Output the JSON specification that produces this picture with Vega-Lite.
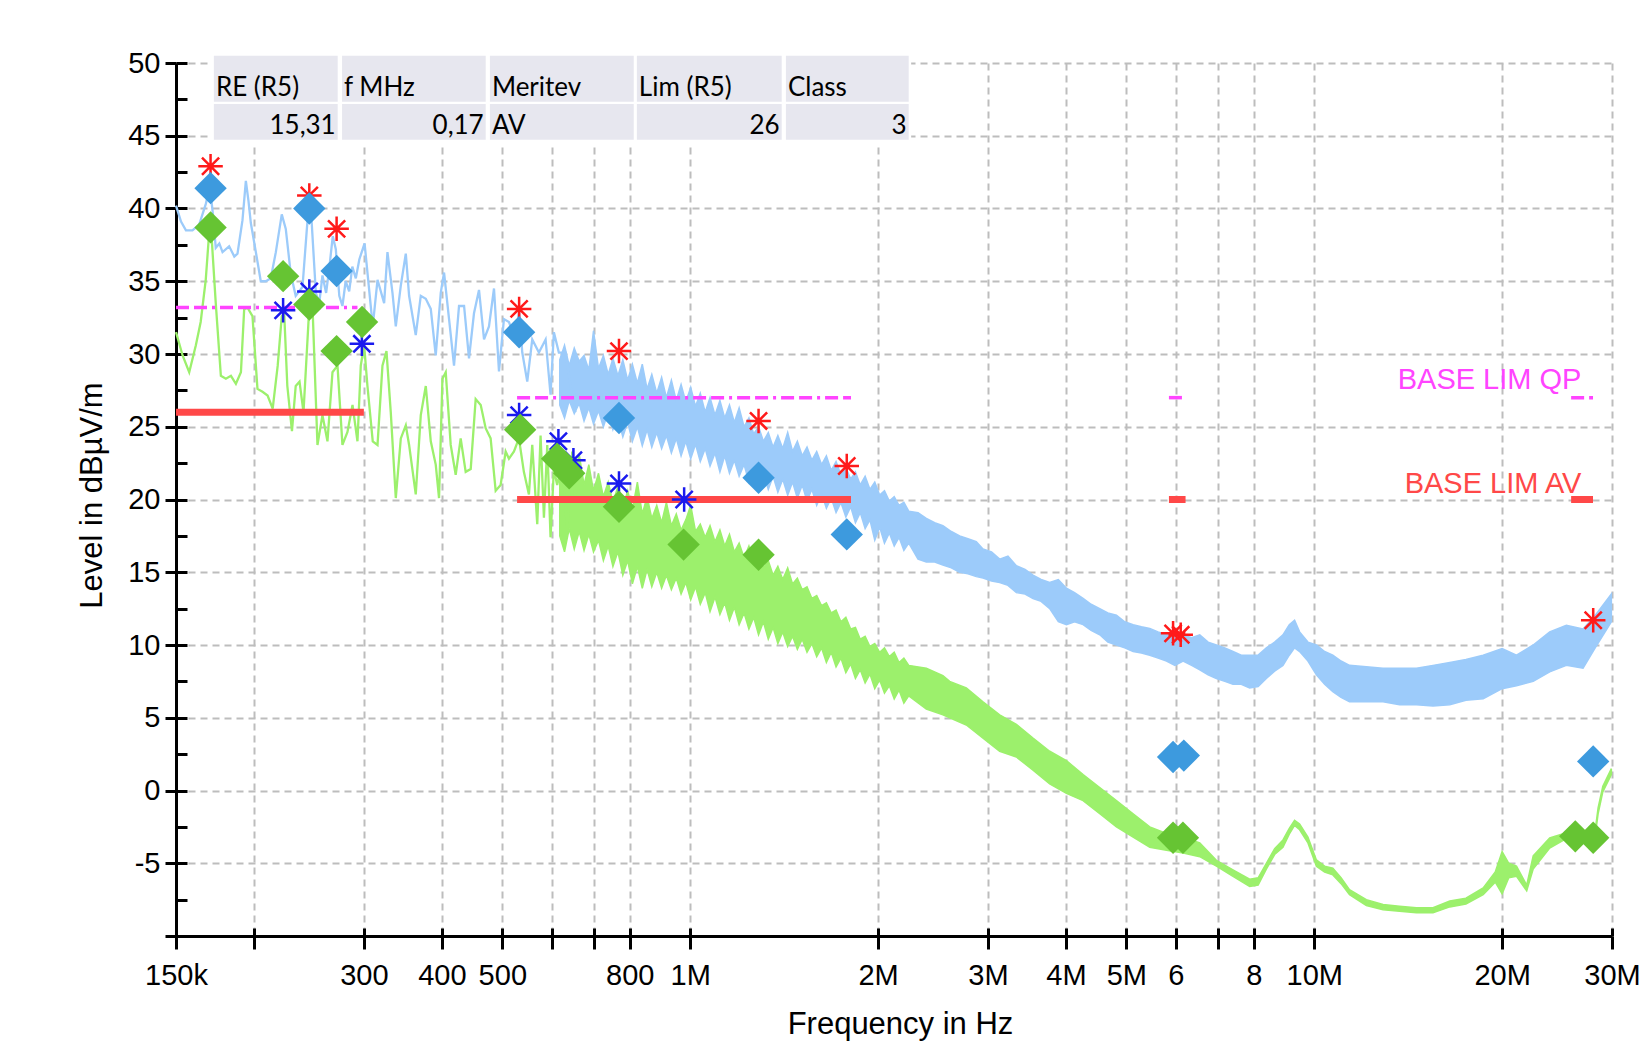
{
  "$schema": "https://vega.github.io/schema/vega-lite/v6.json",
  "width": 1436,
  "height": 873,
  "autosize": {"type": "none"},
  "padding": {"left": 176, "top": 63, "right": 34, "bottom": 106},
  "background": "white",
  "config": {"view": {"stroke": null}, "font": "Liberation Sans"},
  "datasets": {
    "blueLine": [
      {"f":0.150,"v":40.2},{"f":0.1528,"v":39.1},{"f":0.1556,"v":38.5},{"f":0.1594,"v":38.5},{"f":0.1634,"v":38.9},{"f":0.1674,"v":40.3},{"f":0.1700,"v":41.5},{"f":0.1720,"v":39.5},{"f":0.1737,"v":37.3},{"f":0.1760,"v":37.6},{"f":0.1781,"v":37.0},{"f":0.1825,"v":37.4},{"f":0.1860,"v":36.7},{"f":0.1882,"v":36.9},{"f":0.1917,"v":39.2},{"f":0.1941,"v":41.9},{"f":0.1960,"v":40.5},{"f":0.1977,"v":39.0},{"f":0.2014,"v":37.0},{"f":0.2051,"v":35.0},{"f":0.2089,"v":35.0},{"f":0.2128,"v":35.2},{"f":0.2168,"v":37.0},{"f":0.2216,"v":39.6},{"f":0.2249,"v":38.6},{"f":0.2291,"v":35.5},{"f":0.2333,"v":34.0},{"f":0.2392,"v":34.6},{"f":0.2430,"v":38.5},{"f":0.2452,"v":40.6},{"f":0.2475,"v":39.0},{"f":0.2513,"v":34.2},{"f":0.2545,"v":33.5},{"f":0.2575,"v":35.4},{"f":0.2610,"v":34.2},{"f":0.2639,"v":35.8},{"f":0.2675,"v":38.1},{"f":0.2705,"v":37.2},{"f":0.2740,"v":34.0},{"f":0.2772,"v":33.3},{"f":0.2805,"v":35.0},{"f":0.2842,"v":34.3},{"f":0.2875,"v":36.0},{"f":0.2912,"v":35.2},{"f":0.2950,"v":36.5},{"f":0.3008,"v":37.6},{"f":0.3100,"v":31.9},{"f":0.3155,"v":35.1},{"f":0.3233,"v":33.5},{"f":0.3273,"v":37.0},{"f":0.3334,"v":34.2},{"f":0.3375,"v":31.9},{"f":0.3438,"v":34.7},{"f":0.3502,"v":36.9},{"f":0.3545,"v":34.0},{"f":0.3633,"v":31.3},{"f":0.3701,"v":34.0},{"f":0.3770,"v":33.8},{"f":0.3840,"v":33.1},{"f":0.3911,"v":29.9},{"f":0.3984,"v":34.2},{"f":0.4033,"v":35.6},{"f":0.4108,"v":32.4},{"f":0.4184,"v":29.2},{"f":0.4262,"v":33.3},{"f":0.4342,"v":33.3},{"f":0.4422,"v":29.7},{"f":0.4504,"v":32.8},{"f":0.4588,"v":34.4},{"f":0.4674,"v":31.0},{"f":0.4760,"v":31.9},{"f":0.4849,"v":34.5},{"f":0.4939,"v":28.8},{"f":0.5030,"v":32.4},{"f":0.5124,"v":32.2},{"f":0.5252,"v":31.0},{"f":0.5320,"v":33.0},{"f":0.5382,"v":30.1},{"f":0.5482,"v":28.1},{"f":0.5584,"v":31.0},{"f":0.5723,"v":30.1},{"f":0.5866,"v":31.0},{"f":0.5974,"v":27.2},{"f":0.6048,"v":31.5},{"f":0.6160,"v":30.1},{"f":0.6314,"v":30.1},{"f":0.6430,"v":27.8},{"f":0.6550,"v":26.0}
    ],
    "greenLine": [
      {"f":0.150,"v":31.5},{"f":0.1537,"v":29.9},{"f":0.1575,"v":28.75},{"f":0.1614,"v":30.6},{"f":0.1643,"v":32.2},{"f":0.1674,"v":35.1},{"f":0.1695,"v":38.3},{"f":0.1712,"v":37.8},{"f":0.1737,"v":33.5},{"f":0.177,"v":28.5},{"f":0.1803,"v":28.3},{"f":0.1837,"v":28.5},{"f":0.1871,"v":27.95},{"f":0.1906,"v":28.75},{"f":0.1929,"v":33.07},{"f":0.1953,"v":33.18},{"f":0.1989,"v":32.6},{"f":0.2026,"v":27.6},{"f":0.2064,"v":27.4},{"f":0.2103,"v":27.15},{"f":0.2143,"v":26.25},{"f":0.2183,"v":29.2},{"f":0.2216,"v":32.6},{"f":0.2236,"v":32.8},{"f":0.2262,"v":27.8},{"f":0.2301,"v":24.7},{"f":0.2333,"v":27.8},{"f":0.2366,"v":28.1},{"f":0.2401,"v":26.0},{"f":0.2452,"v":33.1},{"f":0.2483,"v":33.1},{"f":0.2528,"v":23.75},{"f":0.2575,"v":25.8},{"f":0.2623,"v":24.0},{"f":0.2672,"v":28.75},{"f":0.2722,"v":29.2},{"f":0.2772,"v":23.75},{"f":0.2824,"v":24.65},{"f":0.2877,"v":26.5},{"f":0.293,"v":24.0},{"f":0.2966,"v":29.2},{"f":0.3003,"v":30.6},{"f":0.304,"v":27.8},{"f":0.31,"v":24.0},{"f":0.3155,"v":23.75},{"f":0.3213,"v":29.2},{"f":0.3261,"v":30.2},{"f":0.3313,"v":26.0},{"f":0.3375,"v":20.1},{"f":0.3438,"v":24.2},{"f":0.3502,"v":25.1},{"f":0.3545,"v":23.75},{"f":0.3633,"v":20.35},{"f":0.3701,"v":25.8},{"f":0.377,"v":27.8},{"f":0.384,"v":24.0},{"f":0.3911,"v":22.4},{"f":0.3959,"v":20.1},{"f":0.4009,"v":28.3},{"f":0.4058,"v":28.75},{"f":0.4133,"v":23.75},{"f":0.421,"v":21.7},{"f":0.4288,"v":24.2},{"f":0.4368,"v":21.9},{"f":0.445,"v":22.1},{"f":0.4532,"v":26.9},{"f":0.4617,"v":26.5},{"f":0.4702,"v":24.9},{"f":0.4789,"v":24.2},{"f":0.4879,"v":20.6},{"f":0.4969,"v":21.0},{"f":0.5062,"v":23.3},{"f":0.5124,"v":22.8},{"f":0.522,"v":23.3},{"f":0.5316,"v":24.2},{"f":0.5414,"v":21.9},{"f":0.5516,"v":20.35},{"f":0.5584,"v":23.75},{"f":0.5688,"v":18.3},{"f":0.5758,"v":24.4},{"f":0.583,"v":18.75},{"f":0.5902,"v":23.75},{"f":0.5974,"v":17.4},{"f":0.6048,"v":22.1},{"f":0.6122,"v":21.0},{"f":0.6237,"v":22.6},{"f":0.6353,"v":17.8},{"f":0.6472,"v":23.3},{"f":0.655,"v":19.9}
    ],
    "blueBand": [
      {"f":0.618,"lo":26.5,"hi":29.6},{"f":0.629,"lo":25.6,"hi":30.6},{"f":0.640,"lo":26.8,"hi":29.2},{"f":0.652,"lo":25.9,"hi":30.4},{"f":0.664,"lo":26.6,"hi":29.5},{"f":0.676,"lo":25.4,"hi":29.9},{"f":0.688,"lo":26.3,"hi":28.9},{"f":0.700,"lo":25.2,"hi":31.6},{"f":0.713,"lo":26.1,"hi":29.0},{"f":0.726,"lo":25.0,"hi":29.9},{"f":0.739,"lo":26.0,"hi":28.6},{"f":0.752,"lo":24.8,"hi":29.7},{"f":0.766,"lo":25.6,"hi":28.5},{"f":0.780,"lo":24.3,"hi":29.6},{"f":0.794,"lo":25.3,"hi":28.2},{"f":0.808,"lo":24.0,"hi":29.3},{"f":0.823,"lo":25.0,"hi":28.0},{"f":0.838,"lo":23.7,"hi":29.3},{"f":0.853,"lo":24.8,"hi":27.6},{"f":0.868,"lo":23.6,"hi":28.6},{"f":0.884,"lo":24.6,"hi":27.3},{"f":0.900,"lo":23.5,"hi":28.4},{"f":0.916,"lo":24.4,"hi":27.0},{"f":0.933,"lo":23.2,"hi":28.2},{"f":0.950,"lo":24.2,"hi":26.8},{"f":0.967,"lo":23.0,"hi":27.9},{"f":0.984,"lo":24.0,"hi":26.7},{"f":1.002,"lo":22.8,"hi":27.7},{"f":1.020,"lo":23.8,"hi":26.4},{"f":1.038,"lo":22.6,"hi":27.3},{"f":1.057,"lo":23.5,"hi":26.0},{"f":1.076,"lo":22.3,"hi":27.0},{"f":1.096,"lo":23.2,"hi":25.8},{"f":1.116,"lo":21.9,"hi":26.8},{"f":1.136,"lo":23.0,"hi":25.6},{"f":1.156,"lo":21.8,"hi":26.5},{"f":1.177,"lo":22.7,"hi":25.3},{"f":1.198,"lo":21.6,"hi":26.3},{"f":1.220,"lo":22.4,"hi":25.0},{"f":1.242,"lo":21.2,"hi":25.6},{"f":1.264,"lo":22.1,"hi":24.5},{"f":1.287,"lo":20.9,"hi":25.0},{"f":1.310,"lo":21.8,"hi":24.0},{"f":1.334,"lo":20.7,"hi":24.6},{"f":1.358,"lo":21.6,"hi":23.6},{"f":1.382,"lo":20.5,"hi":24.4},{"f":1.407,"lo":21.4,"hi":23.5},{"f":1.433,"lo":20.3,"hi":24.6},{"f":1.459,"lo":21.2,"hi":23.3},{"f":1.485,"lo":20.1,"hi":24.0},{"f":1.512,"lo":21.0,"hi":23.0},{"f":1.539,"lo":19.9,"hi":23.6},{"f":1.567,"lo":20.7,"hi":22.7},{"f":1.595,"lo":19.6,"hi":23.3},{"f":1.624,"lo":20.4,"hi":22.4},{"f":1.653,"lo":19.4,"hi":23.0},{"f":1.683,"lo":20.1,"hi":22.0},{"f":1.713,"lo":19.1,"hi":22.6},{"f":1.744,"lo":19.8,"hi":21.7},{"f":1.776,"lo":18.8,"hi":22.2},{"f":1.808,"lo":19.5,"hi":21.4},{"f":1.840,"lo":18.4,"hi":21.9},{"f":1.873,"lo":19.1,"hi":21.0},{"f":1.907,"lo":18.0,"hi":21.6},{"f":1.941,"lo":18.6,"hi":20.7},{"f":1.976,"lo":17.2,"hi":21.2},{"f":2.012,"lo":18.1,"hi":20.3},{"f":2.048,"lo":17.0,"hi":20.6},{"f":2.085,"lo":17.7,"hi":19.9},{"f":2.123,"lo":16.8,"hi":20.2},{"f":2.161,"lo":17.4,"hi":19.6},{"f":2.200,"lo":16.5,"hi":19.8},{"f":2.240,"lo":17.0,"hi":19.2},
      {"f":2.318,"lo":15.9,"hi":19.1},{"f":2.390,"lo":15.7,"hi":18.7},{"f":2.465,"lo":15.7,"hi":18.4},{"f":2.541,"lo":15.5,"hi":18.2},{"f":2.621,"lo":15.3,"hi":17.8},{"f":2.703,"lo":15.0,"hi":17.5},{"f":2.787,"lo":14.9,"hi":17.3},{"f":2.874,"lo":14.7,"hi":17.1},{"f":2.946,"lo":14.6,"hi":16.6},{"f":3.04,"lo":14.4,"hi":16.4},{"f":3.133,"lo":14.3,"hi":15.9},{"f":3.23,"lo":14.1,"hi":16.1},{"f":3.332,"lo":13.6,"hi":15.45},{"f":3.44,"lo":13.5,"hi":15.2},{"f":3.543,"lo":13.2,"hi":14.8},{"f":3.65,"lo":13.0,"hi":14.5},{"f":3.768,"lo":12.5,"hi":14.3},{"f":3.89,"lo":11.6,"hi":14.5},{"f":4.008,"lo":11.4,"hi":13.9},{"f":4.13,"lo":11.6,"hi":13.6},{"f":4.262,"lo":11.4,"hi":13.2},{"f":4.39,"lo":11.0,"hi":12.8},{"f":4.532,"lo":10.7,"hi":12.5},{"f":4.67,"lo":10.2,"hi":12.2},{"f":4.82,"lo":10.0,"hi":12.05},{"f":4.97,"lo":9.8,"hi":11.6},{"f":5.126,"lo":9.55,"hi":11.4},{"f":5.285,"lo":9.45,"hi":11.25},{"f":5.451,"lo":9.3,"hi":11.14},{"f":5.62,"lo":9.1,"hi":10.9},{"f":5.797,"lo":8.9,"hi":10.7},{"f":5.98,"lo":8.6,"hi":10.9},{"f":6.164,"lo":8.9,"hi":10.7},{"f":6.36,"lo":8.6,"hi":10.5},{"f":6.555,"lo":8.3,"hi":10.7},{"f":6.76,"lo":7.95,"hi":10.2},{"f":6.97,"lo":7.7,"hi":10.0},{"f":7.19,"lo":7.5,"hi":9.8},{"f":7.41,"lo":7.3,"hi":9.55},{"f":7.64,"lo":7.3,"hi":9.3},{"f":7.88,"lo":7.05,"hi":9.3},{"f":8.13,"lo":7.15,"hi":9.3},{"f":8.38,"lo":7.7,"hi":9.8},{"f":8.64,"lo":8.2,"hi":10.2},{"f":8.91,"lo":8.6,"hi":10.7},{"f":9.12,"lo":9.3,"hi":11.4},{"f":9.30,"lo":9.8,"hi":11.7},{"f":9.475,"lo":9.55,"hi":10.9},{"f":9.77,"lo":8.9,"hi":10.2},{"f":10.08,"lo":7.95,"hi":10.0},{"f":10.39,"lo":7.3,"hi":9.55},{"f":10.71,"lo":6.8,"hi":9.3},{"f":11.04,"lo":6.4,"hi":8.9},{"f":11.39,"lo":6.1,"hi":8.6},{"f":12.12,"lo":6.1,"hi":8.5},{"f":12.89,"lo":6.1,"hi":8.4},{"f":13.7,"lo":5.9,"hi":8.4},{"f":14.58,"lo":5.9,"hi":8.4},{"f":15.5,"lo":5.8,"hi":8.6},{"f":16.49,"lo":5.9,"hi":8.8},{"f":17.5,"lo":6.2,"hi":9.0},{"f":18.65,"lo":6.3,"hi":9.3},{"f":20.0,"lo":7.0,"hi":9.75},{"f":21.09,"lo":7.2,"hi":9.3},{"f":22.43,"lo":7.5,"hi":10.0},{"f":23.84,"lo":8.15,"hi":10.9},{"f":25.35,"lo":8.6,"hi":11.35},{"f":26.96,"lo":8.4,"hi":11.1},{"f":28.15,"lo":9.75,"hi":12.0},{"f":29.93,"lo":11.6,"hi":13.5}
    ],
    "greenBand": [
      {"f":0.618,"lo":17.5,"hi":23.5},{"f":0.629,"lo":16.4,"hi":21.8},{"f":0.640,"lo":18.0,"hi":23.0},{"f":0.652,"lo":16.6,"hi":21.4},{"f":0.664,"lo":17.8,"hi":23.1},{"f":0.676,"lo":16.5,"hi":21.0},{"f":0.688,"lo":17.6,"hi":22.4},{"f":0.700,"lo":16.4,"hi":20.6},{"f":0.713,"lo":17.2,"hi":21.8},{"f":0.726,"lo":15.8,"hi":20.2},{"f":0.739,"lo":16.8,"hi":21.2},{"f":0.752,"lo":15.4,"hi":19.8},{"f":0.766,"lo":16.4,"hi":20.9},{"f":0.780,"lo":14.8,"hi":19.4},{"f":0.794,"lo":15.8,"hi":20.6},{"f":0.808,"lo":14.2,"hi":19.3},{"f":0.823,"lo":15.4,"hi":21.2},{"f":0.838,"lo":13.9,"hi":19.0},{"f":0.853,"lo":15.2,"hi":20.2},{"f":0.868,"lo":14.0,"hi":18.7},{"f":0.884,"lo":15.0,"hi":19.6},{"f":0.900,"lo":13.9,"hi":18.4},{"f":0.916,"lo":14.8,"hi":19.8},{"f":0.933,"lo":13.8,"hi":18.2},{"f":0.950,"lo":14.6,"hi":19.0},{"f":0.967,"lo":13.5,"hi":17.9},{"f":0.984,"lo":14.3,"hi":18.6},{"f":1.002,"lo":13.1,"hi":19.6},{"f":1.020,"lo":14.0,"hi":17.8},{"f":1.038,"lo":12.8,"hi":18.3},{"f":1.057,"lo":13.6,"hi":17.4},{"f":1.076,"lo":12.3,"hi":18.2},{"f":1.096,"lo":13.3,"hi":17.1},{"f":1.116,"lo":12.1,"hi":17.9},{"f":1.136,"lo":12.9,"hi":16.8},{"f":1.156,"lo":11.7,"hi":17.6},{"f":1.177,"lo":12.6,"hi":16.4},{"f":1.198,"lo":11.4,"hi":17.0},{"f":1.220,"lo":12.2,"hi":16.0},{"f":1.242,"lo":11.1,"hi":16.8},{"f":1.264,"lo":11.9,"hi":15.7},{"f":1.287,"lo":10.7,"hi":16.4},{"f":1.310,"lo":11.6,"hi":15.3},{"f":1.334,"lo":10.4,"hi":15.8},{"f":1.358,"lo":11.2,"hi":14.8},{"f":1.382,"lo":10.1,"hi":15.4},{"f":1.407,"lo":10.9,"hi":14.5},{"f":1.433,"lo":9.9,"hi":15.3},{"f":1.459,"lo":10.6,"hi":14.2},{"f":1.485,"lo":9.7,"hi":14.6},{"f":1.512,"lo":10.4,"hi":13.8},{"f":1.539,"lo":9.5,"hi":14.0},{"f":1.567,"lo":10.1,"hi":13.2},{"f":1.595,"lo":9.2,"hi":13.4},{"f":1.624,"lo":9.8,"hi":12.7},{"f":1.653,"lo":8.8,"hi":12.9},{"f":1.683,"lo":9.5,"hi":12.2},{"f":1.713,"lo":8.5,"hi":12.4},{"f":1.744,"lo":9.1,"hi":11.6},{"f":1.776,"lo":8.1,"hi":11.9},{"f":1.808,"lo":8.7,"hi":11.1},{"f":1.840,"lo":7.7,"hi":11.2},{"f":1.873,"lo":8.3,"hi":10.4},{"f":1.907,"lo":7.4,"hi":10.6},{"f":1.941,"lo":8.0,"hi":9.9},{"f":1.976,"lo":7.0,"hi":10.1},{"f":2.012,"lo":7.6,"hi":9.5},{"f":2.048,"lo":6.7,"hi":9.8},{"f":2.085,"lo":7.2,"hi":9.2},{"f":2.123,"lo":6.3,"hi":9.5},{"f":2.161,"lo":6.9,"hi":8.8},{"f":2.200,"lo":6.0,"hi":9.1},{"f":2.240,"lo":6.5,"hi":8.6},
      {"f":2.39,"lo":5.6,"hi":8.4},{"f":2.541,"lo":5.2,"hi":7.9},{"f":2.605,"lo":5.0,"hi":7.5},{"f":2.77,"lo":4.5,"hi":7.05},{"f":2.946,"lo":3.6,"hi":6.1},{"f":3.133,"lo":2.7,"hi":5.2},{"f":3.332,"lo":2.3,"hi":4.55},{"f":3.543,"lo":1.4,"hi":3.6},{"f":3.768,"lo":0.45,"hi":2.7},{"f":4.008,"lo":-0.2,"hi":2.05},{"f":4.262,"lo":-0.7,"hi":1.1},{"f":4.532,"lo":-1.6,"hi":0.2},{"f":4.82,"lo":-2.5,"hi":-0.7},{"f":5.126,"lo":-3.2,"hi":-1.6},{"f":5.451,"lo":-3.9,"hi":-2.5},{"f":5.797,"lo":-4.1,"hi":-2.95},{"f":6.164,"lo":-4.3,"hi":-3.2},{"f":6.555,"lo":-4.55,"hi":-3.6},{"f":6.97,"lo":-5.2,"hi":-4.8},{"f":7.41,"lo":-5.9,"hi":-5.45},{"f":7.88,"lo":-6.6,"hi":-6.1},{"f":8.13,"lo":-6.5,"hi":-6.0},{"f":8.38,"lo":-5.4,"hi":-5.0},{"f":8.64,"lo":-4.4,"hi":-4.0},{"f":8.91,"lo":-3.9,"hi":-3.4},{"f":9.12,"lo":-3.0,"hi":-2.6},{"f":9.30,"lo":-2.4,"hi":-2.05},{"f":9.475,"lo":-2.7,"hi":-2.3},{"f":9.77,"lo":-3.6,"hi":-3.2},{"f":10.08,"lo":-5.2,"hi":-4.77},{"f":10.39,"lo":-5.6,"hi":-5.2},{"f":10.71,"lo":-5.8,"hi":-5.34},{"f":11.04,"lo":-6.4,"hi":-6.0},{"f":11.39,"lo":-7.16,"hi":-6.82},{"f":12.12,"lo":-7.9,"hi":-7.5},{"f":12.89,"lo":-8.2,"hi":-7.84},{"f":13.7,"lo":-8.3,"hi":-7.95},{"f":14.58,"lo":-8.4,"hi":-8.06},{"f":15.5,"lo":-8.4,"hi":-8.05},{"f":16.49,"lo":-8.0,"hi":-7.6},{"f":17.5,"lo":-7.8,"hi":-7.4},{"f":18.65,"lo":-7.15,"hi":-6.7},{"f":19.5,"lo":-6.3,"hi":-5.6},{"f":20.0,"lo":-7.1,"hi":-4.2},{"f":20.5,"lo":-6.0,"hi":-5.0},{"f":21.09,"lo":-5.9,"hi":-5.2},{"f":21.9,"lo":-6.9,"hi":-6.5},{"f":22.43,"lo":-5.4,"hi":-4.5},{"f":23.84,"lo":-3.95,"hi":-3.26},{"f":25.35,"lo":-3.3,"hi":-2.9},{"f":26.96,"lo":-3.3,"hi":-2.8},{"f":28.2,"lo":-3.1,"hi":-2.7},{"f":28.5,"lo":-1.6,"hi":-1.2},{"f":29.0,"lo":-0.1,"hi":0.3},{"f":29.93,"lo":1.1,"hi":1.5}
    ],
    "markers": [
      {"f":0.1704,"v":42.9,"kind":"QP peak"},{"f":0.2453,"v":40.9,"kind":"QP peak"},{"f":0.2713,"v":38.6,"kind":"QP peak"},{"f":0.532,"v":33.1,"kind":"QP peak"},{"f":0.769,"v":30.2,"kind":"QP peak"},{"f":1.287,"v":25.4,"kind":"QP peak"},{"f":1.782,"v":22.3,"kind":"QP peak"},{"f":5.94,"v":10.8,"kind":"QP peak"},{"f":6.11,"v":10.7,"kind":"QP peak"},{"f":27.99,"v":11.7,"kind":"QP peak"},
      {"f":0.1704,"v":41.4,"kind":"QP"},{"f":0.2453,"v":40.0,"kind":"QP"},{"f":0.2713,"v":35.7,"kind":"QP"},{"f":0.532,"v":31.5,"kind":"QP"},{"f":0.769,"v":25.6,"kind":"QP"},{"f":1.287,"v":21.5,"kind":"QP"},{"f":1.782,"v":17.6,"kind":"QP"},{"f":5.94,"v":2.3,"kind":"QP"},{"f":6.18,"v":2.4,"kind":"QP"},{"f":27.99,"v":2.0,"kind":"QP"},
      {"f":0.2227,"v":33.0,"kind":"AV peak"},{"f":0.2453,"v":34.3,"kind":"AV peak"},{"f":0.2978,"v":30.7,"kind":"AV peak"},{"f":0.532,"v":25.8,"kind":"AV peak"},{"f":0.615,"v":24.0,"kind":"AV peak"},{"f":0.65,"v":22.7,"kind":"AV peak"},{"f":0.769,"v":21.1,"kind":"AV peak"},{"f":0.978,"v":20.0,"kind":"AV peak"},
      {"f":0.1704,"v":38.7,"kind":"AV"},{"f":0.2227,"v":35.35,"kind":"AV"},{"f":0.2453,"v":33.4,"kind":"AV"},{"f":0.2713,"v":30.2,"kind":"AV"},{"f":0.298,"v":32.2,"kind":"AV"},{"f":0.534,"v":24.8,"kind":"AV"},{"f":0.612,"v":22.8,"kind":"AV"},{"f":0.64,"v":21.8,"kind":"AV"},{"f":0.769,"v":19.5,"kind":"AV"},{"f":0.976,"v":16.9,"kind":"AV"},{"f":1.287,"v":16.2,"kind":"AV"},{"f":5.94,"v":-3.25,"kind":"AV"},{"f":6.16,"v":-3.25,"kind":"AV"},{"f":26.2,"v":-3.15,"kind":"AV"},{"f":27.99,"v":-3.25,"kind":"AV"}
    ],
    "limits": [
      {"f1":0.15,"f2":0.30,"v":26,"kind":"AV"},{"f1":0.528,"f2":1.81,"v":20,"kind":"AV"},{"f1":5.85,"f2":6.22,"v":20,"kind":"AV"},{"f1":25.8,"f2":27.97,"v":20,"kind":"AV"},
      {"f1":0.15,"f2":0.293,"v":33.2,"kind":"QP"},{"f1":0.528,"f2":1.81,"v":27,"kind":"QP"},{"f1":5.85,"f2":6.22,"v":27,"kind":"QP"},{"f1":25.8,"f2":27.97,"v":27,"kind":"QP"}
    ],
    "limitLabels": [
      {"f":26.8,"v":27.57,"text":"BASE LIM QP","kind":"QP"},
      {"f":26.8,"v":20.43,"text":"BASE LIM AV","kind":"AV"}
    ],
    "tableBg": [{"f1":0.1705,"f2":2.26,"v1":44.5,"v2":50.65}],
    "table": [
      {"f1":0.1725,"f2":0.2724,"v1":47.33,"v2":50.5,"text":"RE (R5)","num":false},
      {"f1":0.2768,"f2":0.4703,"v1":47.33,"v2":50.5,"text":"f MHz","num":false},
      {"f1":0.4776,"f2":0.812,"v1":47.33,"v2":50.5,"text":"Meritev","num":false},
      {"f1":0.8214,"f2":1.4017,"v1":47.33,"v2":50.5,"text":"Lim (R5)","num":false},
      {"f1":1.4237,"f2":2.2396,"v1":47.33,"v2":50.5,"text":"Class","num":false},
      {"f1":0.1725,"f2":0.2724,"v1":44.73,"v2":47.19,"text":"15,31","num":true},
      {"f1":0.2768,"f2":0.4703,"v1":44.73,"v2":47.19,"text":"0,17","num":true},
      {"f1":0.4776,"f2":0.812,"v1":44.73,"v2":47.19,"text":"AV","num":false},
      {"f1":0.8214,"f2":1.4017,"v1":44.73,"v2":47.19,"text":"26","num":true},
      {"f1":1.4237,"f2":2.2396,"v1":44.73,"v2":47.19,"text":"3","num":true}
    ]
  },
  "layer": [
    {
      "layer": [
        {
          "data": {"name": "blueBand"},
          "mark": {"type": "area", "color": "#9ccbfa", "stroke": "#9ccbfa", "strokeWidth": 1.5, "opacity": 1},
          "encoding": {
            "x": {
              "field": "f", "type": "quantitative",
              "scale": {"type": "log", "domain": [0.15, 30], "nice": false},
              "axis": {
                "values": [0.15, 0.2, 0.3, 0.4, 0.5, 0.6, 0.7, 0.8, 1, 2, 3, 4, 5, 6, 7, 8, 10, 20, 30],
                "labelExpr": "datum.value==0.15?'150k':datum.value==0.3?'300':datum.value==0.4?'400':datum.value==0.5?'500':datum.value==0.8?'800':datum.value==1?'1M':datum.value==2?'2M':datum.value==3?'3M':datum.value==4?'4M':datum.value==5?'5M':datum.value==6?'6':datum.value==8?'8':datum.value==10?'10M':datum.value==20?'20M':datum.value==30?'30M':''",
                "labelFont": "Liberation Sans", "labelFontSize": 29, "labelColor": "black",
                "labelPadding": 12, "labelOverlap": false, "labelFlush": false, "labelBound": false,
                "tickSize": 13, "tickWidth": 3, "tickColor": "black",
                "domainColor": "black", "domainWidth": 3,
                "grid": true, "gridColor": "#bdbdbd", "gridDash": [7, 5], "gridWidth": 2,
                "title": "Frequency in Hz", "titleFont": "Liberation Sans", "titleFontSize": 31, "titleFontWeight": "normal", "titleColor": "black",
                "titleX": 724, "titleY": 97, "titleBaseline": "alphabetic", "titleAlign": "center"
              }
            },
            "y": {
              "field": "lo", "type": "quantitative",
              "scale": {"domain": [-10, 50], "nice": false, "zero": false},
              "axis": {
                "values": [-10, -7.5, -5, -2.5, 0, 2.5, 5, 7.5, 10, 12.5, 15, 17.5, 20, 22.5, 25, 27.5, 30, 32.5, 35, 37.5, 40, 42.5, 45, 47.5, 50],
                "labelExpr": "(datum.value % 5 === 0 && datum.value > -10) ? ('' + datum.value) : ''",
                "labelFont": "Liberation Sans", "labelFontSize": 29, "labelColor": "black",
                "labelPadding": 5, "labelOverlap": false, "labelFlush": false, "labelBound": false,
                "tickSize": 11, "tickWidth": 3, "tickColor": "black",
                "domainColor": "black", "domainWidth": 3,
                "grid": true, "gridColor": "#bdbdbd", "gridDash": [7, 5], "gridWidth": 2,
                "title": "Level in dBµV/m", "titleFont": "Liberation Sans", "titleFontSize": 31, "titleFontWeight": "normal", "titleColor": "black",
                "titleX": -84, "titleY": 432, "titleBaseline": "middle", "titleAlign": "center", "titleAngle": -90
              }
            },
            "y2": {"field": "hi"}
          }
        },
        {
          "data": {"name": "blueLine"},
          "mark": {"type": "line", "color": "#9ccbfa", "strokeWidth": 2.3},
          "encoding": {
            "x": {"field": "f", "type": "quantitative"},
            "y": {"field": "v", "type": "quantitative"}
          }
        },
        {
          "data": {"name": "greenBand"},
          "mark": {"type": "area", "color": "#9cf06c", "stroke": "#9cf06c", "strokeWidth": 1.5, "opacity": 1},
          "encoding": {
            "x": {"field": "f", "type": "quantitative"},
            "y": {"field": "lo", "type": "quantitative"},
            "y2": {"field": "hi"}
          }
        },
        {
          "data": {"name": "greenLine"},
          "mark": {"type": "line", "color": "#9cf06c", "strokeWidth": 2.3},
          "encoding": {
            "x": {"field": "f", "type": "quantitative"},
            "y": {"field": "v", "type": "quantitative"}
          }
        },
        {
          "data": {"name": "limits"},
          "transform": [{"filter": "datum.kind === 'AV'"}],
          "mark": {"type": "rule", "color": "#ff4848", "strokeWidth": 7, "strokeCap": "butt"},
          "encoding": {
            "x": {"field": "f1", "type": "quantitative"},
            "x2": {"field": "f2"},
            "y": {"field": "v", "type": "quantitative"}
          }
        },
        {
          "data": {"name": "limits"},
          "transform": [{"filter": "datum.kind === 'QP'"}],
          "mark": {"type": "rule", "color": "#ff44ff", "strokeWidth": 3.5, "strokeCap": "butt", "strokeDash": [13, 5, 13, 5, 3, 5]},
          "encoding": {
            "x": {"field": "f1", "type": "quantitative"},
            "x2": {"field": "f2"},
            "y": {"field": "v", "type": "quantitative"}
          }
        },
        {
          "data": {"name": "limitLabels"},
          "mark": {"type": "text", "align": "right", "baseline": "alphabetic", "font": "Liberation Sans", "fontSize": 29},
          "encoding": {
            "x": {"field": "f", "type": "quantitative"},
            "y": {"field": "v", "type": "quantitative"},
            "text": {"field": "text"},
            "color": {"field": "kind", "type": "nominal", "scale": {"domain": ["AV", "QP"], "range": ["#ff4848", "#ff44ff"]}, "legend": null}
          }
        },
        {
          "data": {"name": "markers"},
          "transform": [{"filter": "datum.kind === 'QP peak'"}],
          "mark": {"type": "point", "shape": "M-1,0L1,0M0,-1L0,1M-0.7,-0.7L0.7,0.7M-0.7,0.7L0.7,-0.7", "size": 600, "filled": false, "color": "#ff1a1a", "strokeWidth": 2.5, "opacity": 1},
          "encoding": {
            "x": {"field": "f", "type": "quantitative"},
            "y": {"field": "v", "type": "quantitative"}
          }
        },
        {
          "data": {"name": "markers"},
          "transform": [{"filter": "datum.kind === 'AV peak'"}],
          "mark": {"type": "point", "shape": "M-1,0L1,0M0,-1L0,1M-0.7,-0.7L0.7,0.7M-0.7,0.7L0.7,-0.7", "size": 600, "filled": false, "color": "#1a1aee", "strokeWidth": 2.5, "opacity": 1},
          "encoding": {
            "x": {"field": "f", "type": "quantitative"},
            "y": {"field": "v", "type": "quantitative"}
          }
        },
        {
          "data": {"name": "markers"},
          "transform": [{"filter": "datum.kind === 'QP'"}],
          "mark": {"type": "point", "shape": "diamond", "size": 1050, "filled": true, "color": "#3d9ade", "opacity": 1},
          "encoding": {
            "x": {"field": "f", "type": "quantitative"},
            "y": {"field": "v", "type": "quantitative"}
          }
        },
        {
          "data": {"name": "markers"},
          "transform": [{"filter": "datum.kind === 'AV'"}],
          "mark": {"type": "point", "shape": "diamond", "size": 1050, "filled": true, "color": "#66c433", "opacity": 1},
          "encoding": {
            "x": {"field": "f", "type": "quantitative"},
            "y": {"field": "v", "type": "quantitative"}
          }
        },
        {
          "data": {"name": "tableBg"},
          "mark": {"type": "rect", "color": "white"},
          "encoding": {
            "x": {"field": "f1", "type": "quantitative"},
            "x2": {"field": "f2"},
            "y": {"field": "v1", "type": "quantitative"},
            "y2": {"field": "v2"}
          }
        },
        {
          "data": {"name": "table"},
          "mark": {"type": "rect", "color": "#e7e7ef"},
          "encoding": {
            "x": {"field": "f1", "type": "quantitative"},
            "x2": {"field": "f2"},
            "y": {"field": "v1", "type": "quantitative"},
            "y2": {"field": "v2"}
          }
        },
        {
          "data": {"name": "table"},
          "transform": [{"filter": "!datum.num"}],
          "mark": {"type": "text", "align": "left", "baseline": "alphabetic", "dx": 2, "dy": -6, "font": "Lato", "fontSize": 26, "color": "black"},
          "encoding": {
            "x": {"field": "f1", "type": "quantitative"},
            "y": {"field": "v1", "type": "quantitative"},
            "text": {"field": "text"}
          }
        },
        {
          "data": {"name": "table"},
          "transform": [{"filter": "datum.num"}],
          "mark": {"type": "text", "align": "right", "baseline": "alphabetic", "dx": -2, "dy": -6, "font": "Lato", "fontSize": 26, "color": "black"},
          "encoding": {
            "x": {"field": "f2", "type": "quantitative"},
            "y": {"field": "v1", "type": "quantitative"},
            "text": {"field": "text"}
          }
        }
      ]
    },
    {
      "data": {"name": "limits"},
      "mark": {"type": "point", "opacity": 0},
      "encoding": {
        "x": {
          "field": "f1", "type": "quantitative",
          "scale": {"type": "log", "domain": [0.15, 30], "nice": false},
          "axis": {"orient": "bottom", "values": [0.15, 0.2, 0.3, 0.4, 0.5, 0.6, 0.7, 0.8, 1, 2, 3, 4, 5, 6, 7, 8, 10, 20, 30], "tickSize": -8, "tickWidth": 3, "tickColor": "black", "labels": false, "domain": false, "grid": false, "title": null}
        },
        "y": {
          "field": "v", "type": "quantitative",
          "scale": {"domain": [-10, 50], "nice": false, "zero": false},
          "axis": {"orient": "left", "values": [-10, -7.5, -5, -2.5, 0, 2.5, 5, 7.5, 10, 12.5, 15, 17.5, 20, 22.5, 25, 27.5, 30, 32.5, 35, 37.5, 40, 42.5, 45, 47.5, 50], "tickSize": -11, "tickWidth": 3, "tickColor": "black", "labels": false, "domain": false, "grid": false, "title": null}
        }
      }
    }
  ],
  "resolve": {"axis": {"x": "independent", "y": "independent"}}
}
